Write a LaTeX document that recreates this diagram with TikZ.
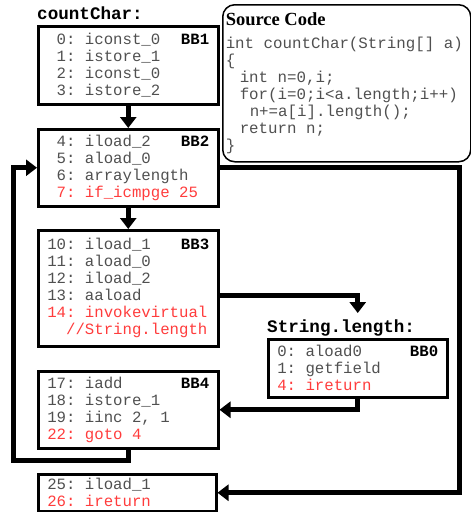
\documentclass[tikz,border=0pt]{standalone}
\usepackage{fontspec}
\setmainfont{Liberation Serif}
\setmonofont{Liberation Mono}
\usepackage{tikz}
\usetikzlibrary{arrows.meta}
\frenchspacing

\definecolor{codegray}{RGB}{80,80,80}
\definecolor{codered}{RGB}{255,60,60}
\newcommand{\hot}[1]{\textcolor{codered}{#1}}
\newcommand{\bb}[1]{\hfill\textbf{\color{black}#1}}

\tikzset{
  block/.style={draw,line width=2.5pt,anchor=north west,align=flush left,
    text width=162pt,inner xsep=9pt,inner ysep=0pt,text=codegray,
    font=\ttfamily\fontsize{15.7}{17}\selectfont},
  fname/.style={anchor=base west,inner sep=0pt,
    font=\ttfamily\bfseries\fontsize{17.6}{18}\selectfont},
  srcbox/.style={draw,line width=1.5pt,rounded corners=12pt,anchor=north west,
    align=flush left,text width=242pt,inner xsep=3pt,minimum width=248pt,minimum height=157pt,
    text=codegray,font=\ttfamily\fontsize{15.8}{17}\selectfont},
  flow/.style={line width=5pt,-{Triangle[width=16pt,length=11pt]}}
}

\begin{document}
\begin{tikzpicture}[x=1pt,y=-1pt]
  \useasboundingbox (0,0) rectangle (471,512);
  \node[srcbox] (src) at (222,4)
    {{\rmfamily\bfseries\color{black}\fontsize{18.5}{20}\selectfont Source Code}\\[6pt]
     int countChar(String[] a)\\
     \{\\
     \hspace*{14pt}int n=0,i;\\
     \hspace*{14pt}for(i=0;i<a.length;i++)\\
     \hspace*{24pt}n+=a[i].length();\\
     \hspace*{14pt}return n;\\
     \}};
  \node[block,minimum height=78pt] (bbone) at (37,25)
    {\phantom{0}0: iconst\_0\bb{BB1}\\
     \phantom{0}1: istore\_1\\
     \phantom{0}2: iconst\_0\\
     \phantom{0}3: istore\_2};
  \node[block,minimum height=77pt] (bbtwo) at (37,128)
    {\phantom{0}4: iload\_2\bb{BB2}\\
     \phantom{0}5: aload\_0\\
     \phantom{0}6: arraylength\\
     \hot{\phantom{0}7: if\_icmpge 25}};
  \node[block,minimum height=116pt] (bbthree) at (37,229)
    {10: iload\_1\bb{BB3}\\
     11: aload\_0\\
     12: iload\_2\\
     13: aaload\\
     \hot{14: invokevirtual}\\
     \hot{\phantom{00}//String.length}};
  \node[block,minimum height=77pt] (bbfour) at (37,370)
    {17: iadd\bb{BB4}\\
     18: istore\_1\\
     19: iinc 2, 1\\
     \hot{22: goto 4}};
  \node[block,minimum height=37pt,text width=160pt] (bbexit) at (37,473)
    {25: iload\_1\\
     \hot{26: ireturn}};
  \node[block,minimum height=58pt,text width=161pt] (bbzero) at (267,338)
    {0: aload0\bb{BB0}\\
     1: getfield\\
     \hot{4: ireturn}};
  \node[fname] (mainlabel) at ([yshift=6pt]bbone.north west) {countChar:};
  \node[fname] (strlabel) at ([yshift=6pt]bbzero.north west) {String.length:};
  \path (bbzero.north |- strlabel.north) ++(0,-6) coordinate (lentop);

  \draw[flow] (bbone.south) -- (bbtwo.north);
  \draw[flow] (bbtwo.south) -- (bbthree.north);
  \draw[flow] (bbtwo.east) -- ++(240,0) |- (bbexit.east);
  \draw[flow] ([yshift=-7pt]bbthree.east) -| (lentop);
  \draw[flow] (bbzero.south) |- (bbfour.east);
  \draw[flow] (bbfour.south) -- ++(0,11) -| ([xshift=-24pt]bbtwo.west) -- (bbtwo.west);
\end{tikzpicture}
\end{document}
